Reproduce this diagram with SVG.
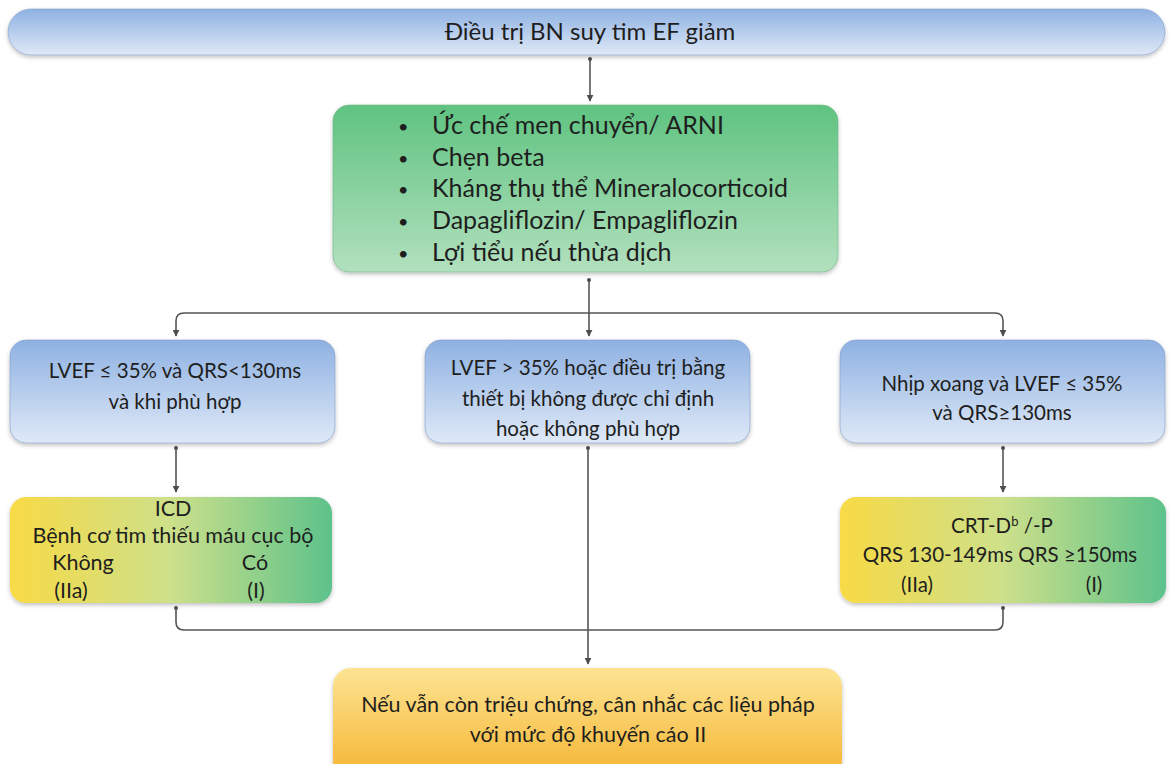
<svg xmlns="http://www.w3.org/2000/svg" width="1170" height="764" viewBox="0 0 1170 764">
<defs>
<linearGradient id="gBlue" x1="0" y1="0" x2="0" y2="1">
<stop offset="0" stop-color="#8eb1e2"/><stop offset="1" stop-color="#dfe9f7"/>
</linearGradient>
<linearGradient id="gGreen" x1="0" y1="0" x2="0" y2="1">
<stop offset="0" stop-color="#5fc381"/><stop offset="1" stop-color="#b2e0be"/>
</linearGradient>
<linearGradient id="gYG" x1="0" y1="0" x2="1" y2="0">
<stop offset="0" stop-color="#f8da45"/><stop offset="0.5" stop-color="#cde08a"/><stop offset="1" stop-color="#5dc28b"/>
</linearGradient>
<linearGradient id="gOrange" x1="0" y1="0" x2="0" y2="1">
<stop offset="0" stop-color="#fde493"/><stop offset="1" stop-color="#f5b532"/>
</linearGradient>
<filter id="sh" x="-5%" y="-10%" width="110%" height="125%">
<feDropShadow dx="0" dy="2" stdDeviation="2" flood-color="#000" flood-opacity="0.25"/>
</filter>
<marker id="arr" viewBox="0 0 10 10" refX="9" refY="5" markerWidth="7" markerHeight="7" orient="auto" markerUnits="userSpaceOnUse">
<path d="M0,0 L10,5 L0,10 z" fill="#4d4d4d"/>
</marker>
<marker id="dot" viewBox="0 0 10 10" refX="5" refY="5" markerWidth="4" markerHeight="4" orient="auto" markerUnits="userSpaceOnUse">
<circle cx="5" cy="5" r="5" fill="#4d4d4d"/>
</marker>
</defs>
<style>
text{font-family:Lato,"Open Sans","Liberation Sans",sans-serif;fill:#1e1e1e;}
.t24{font-size:24px;}
.t25{font-size:25px;}
.t20{font-size:20.5px;}
.t21{font-size:21.5px;}
.bul{font-size:18px;}
.mid{text-anchor:middle;}
.conn{fill:none;stroke:#555;stroke-width:1.6;}
.box{stroke:#7f9cc8;stroke-width:0.6;}
</style>

<g id="connectors">
<path class="conn" d="M590,59 V101" marker-start="url(#dot)" marker-end="url(#arr)"/>
<path class="conn" d="M589,280 V336" marker-start="url(#dot)" marker-end="url(#arr)"/>
<path class="conn" d="M589,313 H184 Q176,313 176,321 V336" marker-end="url(#arr)"/>
<path class="conn" d="M589,313 H995 Q1003,313 1003,321 V336" marker-end="url(#arr)"/>
<path class="conn" d="M176,448 V492" marker-start="url(#dot)" marker-end="url(#arr)"/>
<path class="conn" d="M1003,448 V492" marker-start="url(#dot)" marker-end="url(#arr)"/>
<path class="conn" d="M588,448 V664" marker-start="url(#dot)" marker-end="url(#arr)"/>
<path class="conn" d="M176,608 V622 Q176,630 184,630 H995 Q1003,630 1003,622 V608" marker-start="url(#dot)" marker-end="url(#dot)"/>
</g>

<g id="n-top">
<rect x="8" y="9" width="1157" height="46" rx="23" fill="url(#gBlue)" class="box" filter="url(#sh)"/>
<text class="t24 mid" x="590" y="40">Điều trị BN suy tim EF giảm</text>
</g>

<g id="n-meds">
<rect x="333" y="105" width="505" height="167" rx="16" fill="url(#gGreen)" stroke="#6fb585" stroke-width="0.6" filter="url(#sh)"/>
<g class="t25">
<text class="bul" x="398" y="133">•</text><text x="432" y="134">Ức chế men chuyển/ ARNI</text>
<text class="bul" x="398" y="165">•</text><text x="432" y="166">Chẹn beta</text>
<text class="bul" x="398" y="196">•</text><text x="432" y="197">Kháng thụ thể Mineralocorticoid</text>
<text class="bul" x="398" y="228">•</text><text x="432" y="229">Dapagliflozin/ Empagliflozin</text>
<text class="bul" x="398" y="260">•</text><text x="432" y="261">Lợi tiểu nếu thừa dịch</text>
</g>
</g>

<g id="n-left">
<rect x="10" y="340" width="325" height="103" rx="16" fill="url(#gBlue)" class="box" filter="url(#sh)"/>
<text class="t20 mid" x="175" y="378">LVEF ≤ 35% và QRS&lt;130ms</text>
<text class="t20 mid" x="175" y="409">và khi phù hợp</text>
</g>

<g id="n-middle">
<rect x="425" y="340" width="325" height="103" rx="16" fill="url(#gBlue)" class="box" filter="url(#sh)"/>
<text class="t20 mid" x="588" y="375">LVEF &gt; 35% hoặc điều trị bằng</text>
<text class="t20 mid" x="588" y="406">thiết bị không được chỉ định</text>
<text class="t20 mid" x="588" y="436">hoặc không phù hợp</text>
</g>

<g id="n-right">
<rect x="840" y="340" width="325" height="103" rx="16" fill="url(#gBlue)" class="box" filter="url(#sh)"/>
<text class="t20 mid" x="1002" y="391">Nhịp xoang và LVEF ≤ 35%</text>
<text class="t20 mid" x="1002" y="420">và QRS≥130ms</text>
</g>

<g id="n-icd">
<rect x="10" y="497" width="322" height="106" rx="16" fill="url(#gYG)" filter="url(#sh)"/>
<text class="t21 mid" x="173" y="516">ICD</text>
<text class="t21 mid" x="173" y="543">Bệnh cơ tim thiếu máu cục bộ</text>
<text class="t21 mid" x="83" y="570">Không</text>
<text class="t21 mid" x="255" y="570">Có</text>
<text class="t21 mid" x="71" y="598">(IIa)</text>
<text class="t21 mid" x="256" y="598">(I)</text>
</g>

<g id="n-crt">
<rect x="840" y="497" width="326" height="106" rx="16" fill="url(#gYG)" filter="url(#sh)"/>
<text class="t20 mid" x="1002" y="533">CRT-D<tspan font-size="13" dy="-7">b</tspan><tspan dy="7"> /-P</tspan></text>
<text class="t20 mid" x="1000" y="562">QRS 130-149ms QRS ≥150ms</text>
<text class="t20 mid" x="917" y="592">(IIa)</text>
<text class="t20 mid" x="1094" y="592">(I)</text>
</g>

<g id="n-final">
<rect x="333" y="668" width="509" height="110" rx="18" fill="url(#gOrange)" filter="url(#sh)"/>
<text class="t21 mid" x="588" y="712">Nếu vẫn còn triệu chứng, cân nhắc các liệu pháp</text>
<text class="t21 mid" x="588" y="742">với mức độ khuyến cáo II</text>
</g>
</svg>
